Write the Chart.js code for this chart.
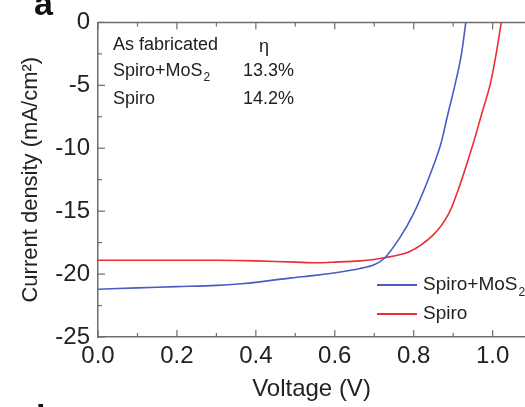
<!DOCTYPE html>
<html>
<head>
<meta charset="utf-8">
<script src="https://cdn.jsdelivr.net/npm/chart.js@4"></script>
<style>
  html, body { margin: 0; padding: 0; background: #fff; }
  #wrap { width: 525px; height: 407px; position: relative; }
</style>
</head>
<body>
<div id="wrap"><canvas id="jv-chart"></canvas></div>
<script>
// J-V curves
const voltsMoS2 = [0, 0.1, 0.2, 0.3, 0.37, 0.49, 0.55, 0.61, 0.664, 0.70, 0.727, 0.765, 0.798, 0.834, 0.867, 0.885, 0.905, 0.92, 0.932];
const currentMoS2 = [-21.2, -21.1, -21.0, -20.9, -20.75, -20.3, -20.1, -19.85, -19.55, -19.25, -18.7, -17.1, -15.3, -12.7, -9.85, -7.5, -4.9, -2.7, 0];

const voltsSpiro = [0, 0.1, 0.2, 0.3, 0.4, 0.5, 0.55, 0.6, 0.664, 0.727, 0.79, 0.849, 0.887, 0.915, 0.951, 0.972, 0.994, 1.01, 1.022];
const currentSpiro = [-18.9, -18.9, -18.9, -18.9, -18.95, -19.05, -19.1, -19.05, -18.95, -18.7, -18.2, -16.9, -15.3, -13.1, -9.6, -7.3, -4.9, -2.3, 0];

const xMinorTicks = [0.1, 0.3, 0.5, 0.7, 0.9];
const yMinorTicks = [-2.5, -7.5, -12.5, -17.5, -22.5];

const efficiencyRows = [
    { name: "Spiro+MoS", sub: "2", eta: "13.3%" },
    { name: "Spiro", sub: "", eta: "14.2%" }
];

const FONT = "'Liberation Sans', Arial, sans-serif";
const blue = "rgb(72, 92, 196)";
const red = "rgb(236, 46, 52)";
const axisGray = "#6e6e6e";

function toPoints(xs, ys) {
    return xs.map((x, i) => ({ x: x, y: ys[i] }));
}

// inward ticks, top frame line, annotations and legend
const decorations = {
    id: "decorations",
    afterDraw(chart) {
        const ctx = chart.ctx;
        const area = chart.chartArea;
        const xs = chart.scales.x;
        const ys = chart.scales.y;
        ctx.save();
        ctx.strokeStyle = axisGray;
        ctx.lineWidth = 1.5;

        // top frame
        ctx.beginPath();
        ctx.moveTo(area.left, area.top);
        ctx.lineTo(area.right, area.top);
        ctx.stroke();

        ctx.lineWidth = 1.2;
        const drawX = (v, len) => {
            const px = xs.getPixelForValue(v);
            ctx.beginPath();
            ctx.moveTo(px, area.bottom);
            ctx.lineTo(px, area.bottom - len);
            ctx.moveTo(px, area.top);
            ctx.lineTo(px, area.top + len);
            ctx.stroke();
        };
        const drawY = (v, len) => {
            const py = ys.getPixelForValue(v);
            ctx.beginPath();
            ctx.moveTo(area.left, py);
            ctx.lineTo(area.left + len, py);
            ctx.stroke();
        };
        xs.ticks.forEach(t => drawX(t.value, 7));
        xMinorTicks.forEach(v => drawX(v, 4));
        ys.ticks.forEach(t => drawY(t.value, 7));
        yMinorTicks.forEach(v => drawY(v, 4));

        // efficiency table
        ctx.fillStyle = "#222";
        ctx.textBaseline = "middle";
        ctx.textAlign = "left";
        ctx.font = "18px " + FONT;
        ctx.fillText("As fabricated", 113, 45);
        ctx.fillText("\u03B7", 259, 47);
        efficiencyRows.forEach((row, i) => {
            const y = 71 + i * 28;
            ctx.font = "18px " + FONT;
            ctx.fillText(row.name, 113, y);
            if (row.sub) {
                const w = ctx.measureText(row.name).width;
                ctx.font = "12px " + FONT;
                ctx.fillText(row.sub, 113 + w + 1, y + 7);
            }
            ctx.font = "18px " + FONT;
            ctx.fillText(row.eta, 243, y);
        });

        // legend
        const legendRows = [
            { name: "Spiro+MoS", sub: "2", color: blue, y: 285 },
            { name: "Spiro", sub: "", color: red, y: 314 }
        ];
        legendRows.forEach(row => {
            ctx.strokeStyle = row.color;
            ctx.lineWidth = 1.8;
            ctx.beginPath();
            ctx.moveTo(377, row.y);
            ctx.lineTo(417, row.y);
            ctx.stroke();
            ctx.fillStyle = "#222";
            ctx.font = "19px " + FONT;
            ctx.fillText(row.name, 423, row.y);
            if (row.sub) {
                const w = ctx.measureText(row.name).width;
                ctx.font = "12px " + FONT;
                ctx.fillText(row.sub, 423 + w + 1, row.y + 8);
            }
        });

        // panel letters, cut off by the crop
        ctx.fillStyle = "#111";
        ctx.font = "bold 34px " + FONT;
        ctx.textBaseline = "alphabetic";
        ctx.fillText("a", 34, 15);
        ctx.fillText("b", 36, 428);
        ctx.restore();
    }
};

new Chart(document.getElementById("jv-chart"), {
    type: "line",
    data: {
        datasets: [
            {
                label: "Spiro+MoS2",
                data: toPoints(voltsMoS2, currentMoS2),
                borderColor: blue,
                backgroundColor: blue,
                borderWidth: 1.6,
                pointRadius: 0,
                tension: 0.3
            },
            {
                label: "Spiro",
                data: toPoints(voltsSpiro, currentSpiro),
                borderColor: red,
                backgroundColor: red,
                borderWidth: 1.6,
                pointRadius: 0,
                tension: 0.3
            }
        ]
    },
    options: {
        responsive: true,
        maintainAspectRatio: false,
        animation: false,
        layout: { padding: { top: 17, right: 0, bottom: 0, left: 0 } },
        plugins: {
            legend: { display: false },
            tooltip: { enabled: false }
        },
        scales: {
            x: {
                type: "linear",
                min: 0,
                max: 1.082,
                afterFit: s => { s.height = 70; },
                grid: { display: true, drawOnChartArea: false, drawTicks: false },
                border: { display: true, color: axisGray, width: 1.5 },
                ticks: {
                    stepSize: 0.2,
                    includeBounds: false,
                    padding: 5,
                    color: "#222",
                    font: { family: FONT, size: 24 },
                    callback: v => v.toFixed(1)
                },
                title: {
                    display: true,
                    text: "Voltage (V)",
                    color: "#222",
                    font: { family: FONT, size: 24, lineHeight: 1 },
                    padding: { top: 0, bottom: 6 }
                }
            },
            y: {
                type: "linear",
                min: -25,
                max: 0,
                afterFit: s => { s.width = 98; },
                grid: { display: true, drawOnChartArea: false, drawTicks: false },
                border: { display: true, color: axisGray, width: 1.5 },
                ticks: {
                    stepSize: 5,
                    padding: 8,
                    color: "#222",
                    font: { family: FONT, size: 24 }
                },
                title: {
                    display: true,
                    text: "Current density (mA/cm\u00B2)",
                    color: "#222",
                    font: { family: FONT, size: 22, lineHeight: 1 },
                    padding: { top: 20, bottom: 0 }
                }
            }
        }
    },
    plugins: [decorations]
});
</script>
</body>
</html>
